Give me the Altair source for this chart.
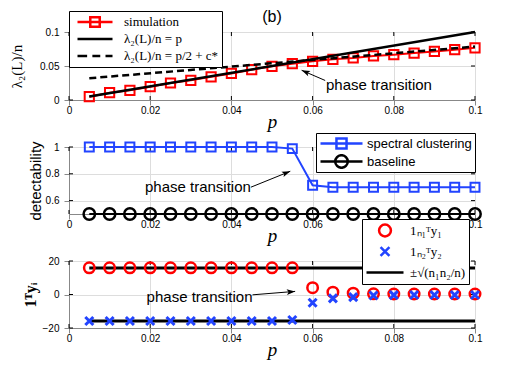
import math
import altair as alt
import pandas as pd

# ---------------- data ----------------
p_vals = [0.005, 0.010, 0.015, 0.020, 0.025, 0.030, 0.035, 0.040, 0.045, 0.050,
          0.055, 0.060, 0.065, 0.070, 0.075, 0.080, 0.085, 0.090, 0.095, 0.100]
sim_vals = [0.0049, 0.0108, 0.0142, 0.0196, 0.0250, 0.0290, 0.0340, 0.0390, 0.0446, 0.0495,
            0.0534, 0.0569, 0.0598, 0.0618, 0.0648, 0.0667, 0.0690, 0.0714, 0.0740, 0.0768]
line_p = [0.005, 0.100]
theory_vals = [0.005, 0.100]
shifted_vals = [0.0320, 0.0785]

spectral_vals = [1.0, 1.0, 1.0, 1.0, 1.0, 1.0, 1.0, 1.0, 1.0, 1.0,
                 0.988, 0.714, 0.70, 0.70, 0.70, 0.70, 0.70, 0.70, 0.70, 0.70]
baseline_vals = [0.5, 0.5, 0.5, 0.5, 0.5, 0.5, 0.5, 0.5, 0.5, 0.5,
                 0.5, 0.5, 0.5, 0.5, 0.5, 0.5, 0.5, 0.5, 0.5, 0.5]

y1_vals = [15.9, 15.9, 15.9, 15.9, 15.9, 15.9, 15.9, 15.9, 15.9, 15.9,
           15.9, 4.1, 1.4, 0.8, 0.4, 0.3, 0.3, 0.3, 0.3, 0.3]
y2_vals = [-15.8, -15.8, -15.8, -15.8, -15.8, -15.8, -15.8, -15.8, -15.8, -15.8,
           -15.2, -4.9, -2.3, -1.6, -0.6, -0.4, -0.3, -0.3, -0.3, -0.3]
bound_upper = [15.8, 15.8]
bound_lower = [-15.8, -15.8]

x_ticks = [0, 0.02, 0.04, 0.06, 0.08, 0.1]
y1_ticks = [0, 0.05, 0.1]
y2_ticks = [0.6, 0.8, 1]
y3_ticks = [-20, 0, 20]
series1 = ["simulation", "λ₂(L)/n = p", "λ₂(L)/n = p/2 + c*"]
series2 = ["spectral clustering", "baseline"]
series3 = ["1ₙ₁ᵀy₁", "1ₙ₂ᵀy₂", "±√(n₁n₂/n)"]
annotation = "phase transition"
panel_title = "(b)"

# ---------------- style ----------------
SANS = "Liberation Sans"
SERIF = "Liberation Serif"
RED = "#ff0000"
BLUE = "#2244ff"
W = 406
H1, H2, H3 = 68, 67, 67
TICK = 4

LINE = "M-1,0L1,0"
LINE_SQ = "M-1,0L1,0M-0.27,-0.27L0.27,-0.27L0.27,0.27L-0.27,0.27Z"
DASH = "M-1,0L-0.45,0M-0.15,0L0.3,0M0.6,0L1,0"
LINE_SQ2 = "M-1,0L1,0M-0.24,-0.24L0.24,-0.24L0.24,0.24L-0.24,0.24Z"
LINE_CI2 = "M-1,0L1,0M-0.3,0A0.3,0.3 0 1,0 0.3,0A0.3,0.3 0 1,0 -0.3,0Z"
CIRC3 = "M-0.32,0A0.32,0.32 0 1,0 0.32,0A0.32,0.32 0 1,0 -0.32,0Z"
X3 = "M-0.24,-0.24L0.24,0.24M-0.24,0.24L0.24,-0.24"
XMARK = "M-1,-1L1,1M-1,1L1,-1"
ARROW = "M0,0L0.55,1.6L0,1.25L-0.55,1.6Z"

XDOM = [0, 0.1]


def xenc():
    return alt.X("p:Q", scale=alt.Scale(domain=XDOM, nice=False, zero=False),
                 axis=alt.Axis(values=x_ticks, format="~g", title="p", labelFlush=False,
                               labelOverlap=False, labelPadding=0,
                               titleFont=SERIF, titleFontStyle="italic", titleFontWeight="normal",
                               titleFontSize=19, titleBaseline="middle", titleY=21))


def yenc(dom, vals, fmt, title, tx, h, font, size, weight="normal"):
    return alt.Y("v:Q", scale=alt.Scale(domain=dom, nice=False, zero=False),
                 axis=alt.Axis(values=vals, format=fmt, title=title, labelFlush=False,
                               labelOverlap=False, labelPadding=5,
                               titleFont=font, titleFontSize=size, titleFontWeight=weight,
                               titleX=tx, titleY=h / 2, titleAlign="center",
                               titleBaseline="middle"))


def inner_ticks(X, Y, ydom, yvals, h):
    """Short inward tick marks on all four sides of the box (MATLAB style)."""
    dx = TICK / W * (XDOM[1] - XDOM[0])
    dy = TICK / h * (ydom[1] - ydom[0])
    rows = []
    for t in x_ticks:
        rows.append((t, ydom[0], t, ydom[0] + dy))
        rows.append((t, ydom[1], t, ydom[1] - dy))
    for t in yvals:
        rows.append((XDOM[0], t, XDOM[0] + dx, t))
        rows.append((XDOM[1], t, XDOM[1] - dx, t))
    df = pd.DataFrame(rows, columns=["p", "v", "p2", "v2"])
    return alt.Chart(df).mark_rule(color="black", strokeWidth=1).encode(
        x=X, y=Y, x2="p2:Q", y2="v2:Q")


def arrow(X, Y, tail, tip, sx, sy):
    df = pd.DataFrame({"p": [tail[0]], "v": [tail[1]], "p2": [tip[0]], "v2": [tip[1]]})
    rule = alt.Chart(df).mark_rule(color="black", strokeWidth=1).encode(
        x=X, y=Y, x2="p2:Q", y2="v2:Q")
    dx = (tip[0] - tail[0]) * sx
    dy = -(tip[1] - tail[1]) * sy
    ang = math.degrees(math.atan2(dx, -dy)) % 360
    head = alt.Chart(pd.DataFrame({"p": [tip[0]], "v": [tip[1]]})).mark_point(
        shape=ARROW, filled=True, color="black", size=110, angle=ang, opacity=1,
        strokeWidth=0).encode(x=X, y=Y)
    return [rule, head]


def text_layer(X, Y, px, py, align, text, size=15):
    df = pd.DataFrame({"p": [px], "v": [py], "t": [text]})
    return alt.Chart(df).mark_text(align=align, baseline="middle", font=SANS, fontSize=size,
                                   color="black").encode(x=X, y=Y, text="t:N")


def legend(lx, ly, size, font, fsize, pad, rowpad, clip, soff, loff):
    return alt.Legend(title=None, orient="none", legendX=lx, legendY=ly, symbolSize=size,
                      symbolStrokeWidth=2.5, symbolOpacity=1, labelFont=font,
                      labelFontSize=fsize, labelColor="black", padding=pad,
                      rowPadding=rowpad, clipHeight=clip, symbolOffset=soff,
                      labelOffset=loff, strokeColor="black", fillColor="white",
                      cornerRadius=0, labelLimit=400)


def carrier(names, colors, shapes, leg):
    df = pd.DataFrame({"series": names})
    return alt.Chart(df).transform_filter("false").mark_point(filled=False, opacity=1).encode(
        color=alt.Color("series:N", scale=alt.Scale(domain=names, range=colors), legend=leg),
        shape=alt.Shape("series:N", scale=alt.Scale(domain=names, range=shapes), legend=leg))


SX = W / 0.1

# ---------------- panel 1 ----------------
X = xenc()
Y1D = [0, 0.1]
Y1 = yenc(Y1D, y1_ticks, "~g", "λ₂(L)/n", -53, H1, SERIF, 15)
d_sim = pd.DataFrame({"p": p_vals, "v": sim_vals})
d_th = pd.DataFrame({"p": line_p, "v": theory_vals})
d_sh = pd.DataFrame({"p": line_p, "v": shifted_vals})
l1 = [
    inner_ticks(X, Y1, Y1D, y1_ticks, H1),
    alt.Chart(d_sim).mark_line(color=RED, strokeWidth=2).encode(x=X, y=Y1),
    alt.Chart(d_sim).mark_point(shape="square", filled=False, color=RED, size=85,
                                strokeWidth=2, opacity=1).encode(x=X, y=Y1),
    alt.Chart(d_th).mark_line(color="black", strokeWidth=2.5).encode(x=X, y=Y1),
    alt.Chart(d_sh).mark_line(color="black", strokeWidth=2.5, strokeDash=[7, 4]).encode(x=X, y=Y1),
    text_layer(X, Y1, 0.0633, 0.0225, "left", annotation),
    text_layer(X, Y1, 0.05, 0.1225, "center", panel_title, 16),
] + arrow(X, Y1, (0.0631, 0.0287), (0.0573, 0.0437), SX, H1 / 0.1) + [
    carrier(series1, [RED, "black", "black"], [LINE_SQ, LINE, DASH],
            legend(0, -21, 35 * 35, SERIF, 13, 3, 1, 16, 4, 10)),
]
p1 = alt.layer(*l1).properties(width=W, height=H1)

# ---------------- panel 2 ----------------
Y2D = [0.5, 1]
Y2 = yenc(Y2D, y2_ticks, "~g", "detectability", -34, H2, SANS, 15)
d_sp = pd.DataFrame({"p": p_vals, "v": spectral_vals})
d_bl = pd.DataFrame({"p": p_vals, "v": baseline_vals})
l2 = [
    inner_ticks(X, Y2, Y2D, y2_ticks, H2),
    alt.Chart(d_sp).mark_line(color=BLUE, strokeWidth=2).encode(x=X, y=Y2),
    alt.Chart(d_sp).mark_point(shape="square", filled=False, color=BLUE, size=80,
                               strokeWidth=2, opacity=1).encode(x=X, y=Y2),
    alt.Chart(d_bl).mark_line(color="black", strokeWidth=2).encode(x=X, y=Y2),
    alt.Chart(d_bl).mark_point(shape="circle", filled=False, color="black", size=130,
                               strokeWidth=2.5, opacity=1).encode(x=X, y=Y2),
    text_layer(X, Y2, 0.0448, 0.699, "right", annotation),
] + arrow(X, Y2, (0.0448, 0.70), (0.0545, 0.819), SX, H2 / 0.5) + [
    carrier(series2, [BLUE, "black"], [LINE_SQ2, LINE_CI2],
            legend(247, -14, 42 * 42, SANS, 13, 3, 3, 15, 0, 3)),
]
p2 = alt.layer(*l2).properties(width=W, height=H2)

# ---------------- panel 3 ----------------
Y3D = [-20, 20]
Y3 = yenc(Y3D, y3_ticks, "d", "1ᵀyᵢ", -39, H3, SERIF, 16, "bold")
d_y1 = pd.DataFrame({"p": p_vals, "v": y1_vals})
d_y2 = pd.DataFrame({"p": p_vals, "v": y2_vals})
d_up = pd.DataFrame({"p": line_p, "v": bound_upper})
d_lo = pd.DataFrame({"p": line_p, "v": bound_lower})
l3 = [
    inner_ticks(X, Y3, Y3D, y3_ticks, H3),
    alt.Chart(d_up).mark_line(color="black", strokeWidth=3).encode(x=X, y=Y3),
    alt.Chart(d_lo).mark_line(color="black", strokeWidth=3).encode(x=X, y=Y3),
    alt.Chart(d_y1).mark_point(shape="circle", filled=False, color=RED, size=110,
                               strokeWidth=2.5, opacity=1).encode(x=X, y=Y3),
    alt.Chart(d_y2).mark_point(shape=XMARK, filled=False, color=BLUE, size=64,
                               strokeWidth=3, opacity=1).encode(x=X, y=Y3),
    text_layer(X, Y3, 0.0452, -1.7, "right", annotation),
] + arrow(X, Y3, (0.0452, -0.2), (0.0557, 1.86), SX, H3 / 40) + [
    carrier(series3, [RED, BLUE, "black"], [CIRC3, X3, LINE],
            legend(293, -42, 37 * 37, SERIF, 13, 3, 4, 17, 0, 5)),
]
p3 = alt.layer(*l3).properties(width=W, height=H3)

chart = alt.vconcat(p1, p2, p3, spacing=47, bounds="flush").resolve_scale(
    color="independent", shape="independent"
).resolve_legend(color="independent", shape="independent").properties(
    padding={"left": 0, "top": 0, "right": 5, "bottom": 5}
).configure_view(stroke="black", strokeWidth=1).configure_axis(
    grid=False, domain=False, ticks=False, labelFont=SANS, labelFontSize=12,
    labelColor="black", titleColor="black"
).configure(background="white")

chart.save("out.html", embed_options={"renderer": "svg", "actions": False})
